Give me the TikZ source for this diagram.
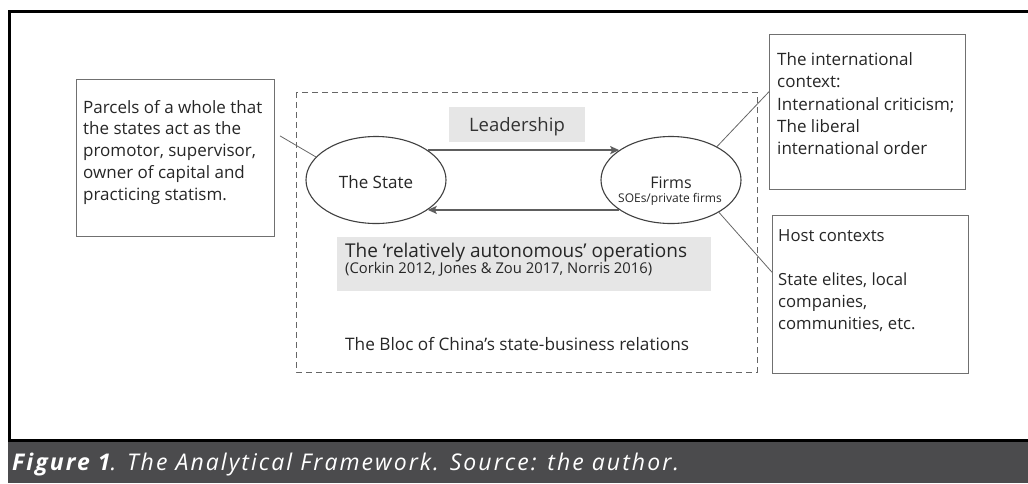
\documentclass[tikz,border=0pt]{standalone}
\usepackage{fontspec}
\setmainfont{Open Sans}
\newfontfamily\capfont[LetterSpace=9]{Open Sans}
\usetikzlibrary{shapes.geometric,calc,arrows.meta}
\definecolor{boxline}{HTML}{707070}
\definecolor{shade}{HTML}{E6E6E6}
\definecolor{arrowgray}{HTML}{5E5E5E}
\definecolor{barfill}{HTML}{4B4B4D}
\begin{document}
\begin{tikzpicture}[x=1pt,y=-1pt,
  textbox/.style={draw=boxline,line width=1pt,inner sep=0pt,anchor=north west},
  body/.style={anchor=north west,inner sep=0pt,align=left,text=black!85},
  actor/.style={draw=black!75,line width=1.1pt,ellipse,minimum width=140pt,minimum height=87pt,inner sep=0pt},
  tag/.style={fill=shade,inner sep=0pt,anchor=north west},
  flow/.style={draw=arrowgray,line width=2pt,-{Stealth[length=9pt,width=8pt,inset=2pt]}},
  link/.style={draw=black!60,line width=0.8pt}]
\useasboundingbox (0,0) rectangle (1028,483);

% outer frame and caption bar
\draw[line width=3pt] (9.5,11.5) rectangle (1060,440);
\fill[barfill] (8,441.5) rectangle (1028,483);
\node[anchor=base west,inner sep=0pt,text=white,font=\capfont\fontsize{23}{26}\selectfont\itshape] (caption) at (12,470)
  {\textbf{Figure 1}. The Analytical Framework. Source: the author.};

% dashed bloc
\draw[dashed,draw=black!60,line width=1pt,dash pattern=on 6pt off 4pt] (296,92) rectangle (757,372);

% left note
\node[textbox,minimum width=198pt,minimum height=157pt] (note) at (76,79) {};
\node[body,font=\fontsize{17}{21.7}\selectfont] (notetext) at (83,100)
  {Parcels of a whole that\\the states act as the\\promotor, supervisor,\\owner of capital and\\practicing statism.};

% international context
\node[textbox,minimum width=196pt,minimum height=155pt] (intl) at (769,34) {};
\node[body,font=\fontsize{17}{22.3}\selectfont] (intltext) at (777,52.5)
  {The international\\context:\\International criticism;\\The liberal\\international order};

% host contexts
\node[textbox,minimum width=196pt,minimum height=158pt] (host) at (772,215) {};
\node[body,font=\fontsize{16.7}{22}\selectfont] (hosttext) at (778,229.5)
  {Host contexts\\\mbox{}\\State elites, local\\companies,\\communities, etc.};

% the two actors
\node[actor] (state) at (376,180) {};
\node[font=\fontsize{17}{20}\selectfont,text=black!85,anchor=base] (statetext) at (376,188.3) {The State};
\node[actor] (firms) at (671,180) {};
\node[font=\fontsize{16}{20}\selectfont,text=black!85,anchor=base] (firmstext) at (671,188.3) {Firms};
\node[font=\fontsize{12}{13}\selectfont,text=black!85,anchor=base] (firmsub) at (670,202) {SOEs/private firms};

% labels on the flows
\node[tag,minimum width=136pt,minimum height=35pt] (lead) at (449,107) {};
\node[font=\fontsize{18.5}{20}\selectfont,text=black!80,anchor=base] (leadtext) at (517,131) {Leadership};
\node[tag,minimum width=374pt,minimum height=54pt] (ops) at (337,237) {};
\node[font=\fontsize{19}{20}\selectfont,text=black!85,anchor=base west,inner sep=0pt] (opstext) at (345,257) {The ‘relatively autonomous’ operations};
\node[font=\fontsize{14.8}{17}\selectfont,text=black!85,anchor=base west,inner sep=0pt] (opscite) at (345,273.5) {(Corkin 2012, Jones \& Zou 2017, Norris 2016)};

% bloc title
\node[font=\fontsize{17.2}{20}\selectfont,text=black!85,anchor=base west,inner sep=0pt] (bloc) at (345,350) {The Bloc of China’s state-business relations};

% flows between state and firms
\draw[flow] (state.30) -- (firms.150);
\draw[flow] (firms.-150) -- (state.-30);

% context links
\draw[link] ($(note.north east)!0.36!(note.south east)+(5,0)$) -- (state.159);
\draw[link] (firms.36) -- ($(intl.north west)!0.37!(intl.south west)$);
\draw[link] (firms.-34) -- ($(host.north west)!0.36!(host.south west)$);
\end{tikzpicture}
\end{document}
